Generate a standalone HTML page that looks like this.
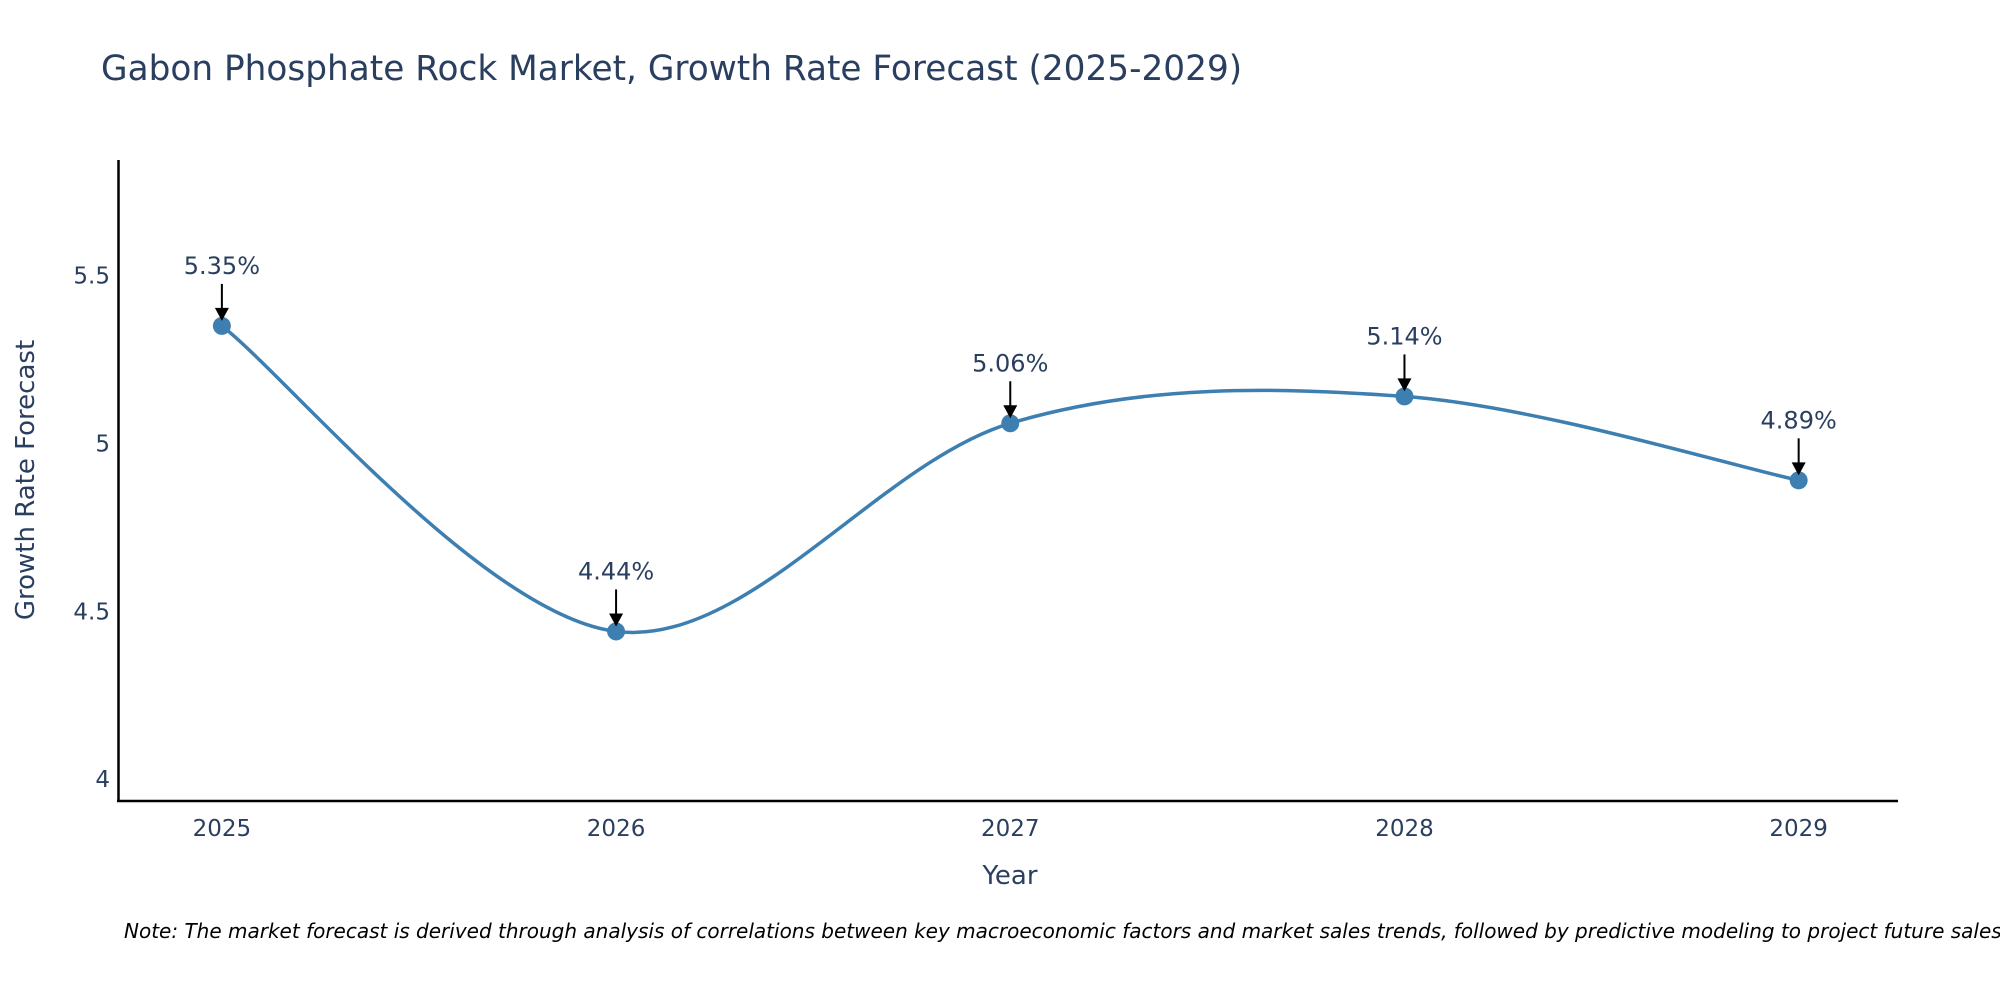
<!DOCTYPE html>
<html><head><meta charset="utf-8"><style>
body{margin:0;background:#fff;}
svg{display:block;font-family:"DejaVu Sans","Liberation Sans",sans-serif;}
</style></head><body>
<svg id="chart" width="2000" height="1000">
<text x="101" y="80" font-size="34.3" fill="#2a3f5f">Gabon Phosphate Rock Market, Growth Rate Forecast (2025-2029)</text>
<g id="yticks"></g>
<g id="xticks"></g>
<path id="line" fill="none" stroke="#3d7fb1" stroke-width="3.5"/>
<g id="marks"></g>
<g id="annots"></g>
<line x1="118.5" y1="160" x2="118.5" y2="802" stroke="#000" stroke-width="2.5"/>
<line x1="117" y1="801" x2="1898" y2="801" stroke="#000" stroke-width="2.5"/>
<text transform="translate(34,480) rotate(-90)" text-anchor="middle" font-size="26" fill="#2a3f5f">Growth Rate Forecast</text>
<text x="1010" y="884" text-anchor="middle" font-size="26" fill="#2a3f5f">Year</text>
<text x="124" y="938" font-size="20" font-style="italic" fill="#000">Note: The market forecast is derived through analysis of correlations between key macroeconomic factors and market sales trends, followed by predictive modeling to project future sales.</text>
</svg>
<script>
const years = [2025, 2026, 2027, 2028, 2029];
const values = [5.35, 4.44, 5.06, 5.14, 4.89];
const labels = ["5.35%", "4.44%", "5.06%", "5.14%", "4.89%"];
const yTicks = [4, 4.5, 5, 5.5];
const xTicks = [2025, 2026, 2027, 2028, 2029];

const L=118.6,R=1898,T=160.7,B=801;
const X0=2024.738,X1=2029.252,Y0=3.935,Y1=5.842;
const sx=v=>L+(v-X0)/(X1-X0)*(R-L);
const sy=v=>B-(v-Y0)/(Y1-Y0)*(B-T);
const NS="http://www.w3.org/2000/svg";
function mk(tag,attrs,parent,txt){const e=document.createElementNS(NS,tag);for(const k in attrs)e.setAttribute(k,attrs[k]);if(txt!==undefined)e.textContent=txt;parent.appendChild(e);return e;}

const yg=document.getElementById('yticks');
yTicks.forEach(t=>{
  const e=mk('text',{x:110,y:sy(t)+8,'text-anchor':'end','font-size':23,fill:'#2a3f5f'},yg,String(t));
  
  
});
const xg=document.getElementById('xticks');
xTicks.forEach(t=>{
  const e=mk('text',{x:sx(t),y:836,'text-anchor':'middle','font-size':23,fill:'#2a3f5f'},xg,String(t));
  
  
});

const pts=years.map((y,i)=>[sx(y),sy(values[i])]);
let d=`M${pts[0][0]},${pts[0][1]}`;
for(let i=0;i<pts.length-1;i++){
  const p0=pts[i-1]||pts[i],p1=pts[i],p2=pts[i+1],p3=pts[i+2]||pts[i+1];
  const c1=[p1[0]+(p2[0]-p0[0])/6,p1[1]+(p2[1]-p0[1])/6];
  const c2=[p2[0]-(p3[0]-p1[0])/6,p2[1]-(p3[1]-p1[1])/6];
  d+=` C${c1[0]},${c1[1]} ${c2[0]},${c2[1]} ${p2[0]},${p2[1]}`;
}
document.getElementById('line').setAttribute('d',d);

const mg=document.getElementById('marks'),ag=document.getElementById('annots');
pts.forEach((p,i)=>{
  const c=mk('circle',{cx:p[0],cy:p[1],r:9,fill:'#3d7fb1'},mg);
  
  
  const a=mk('line',{x1:p[0],y1:p[1]-42,x2:p[0],y2:p[1]-16,stroke:'#000','stroke-width':2},ag);
  
  
  const h=mk('path',{d:`M${p[0]-7},${p[1]-18} L${p[0]+7},${p[1]-18} L${p[0]},${p[1]-5} Z`,fill:'#000'},ag);
  
  
  const t=mk('text',{x:p[0],y:p[1]-52,'text-anchor':'middle','font-size':24,fill:'#2a3f5f'},ag,labels[i]);
  
  
});
</script>
</body></html>
